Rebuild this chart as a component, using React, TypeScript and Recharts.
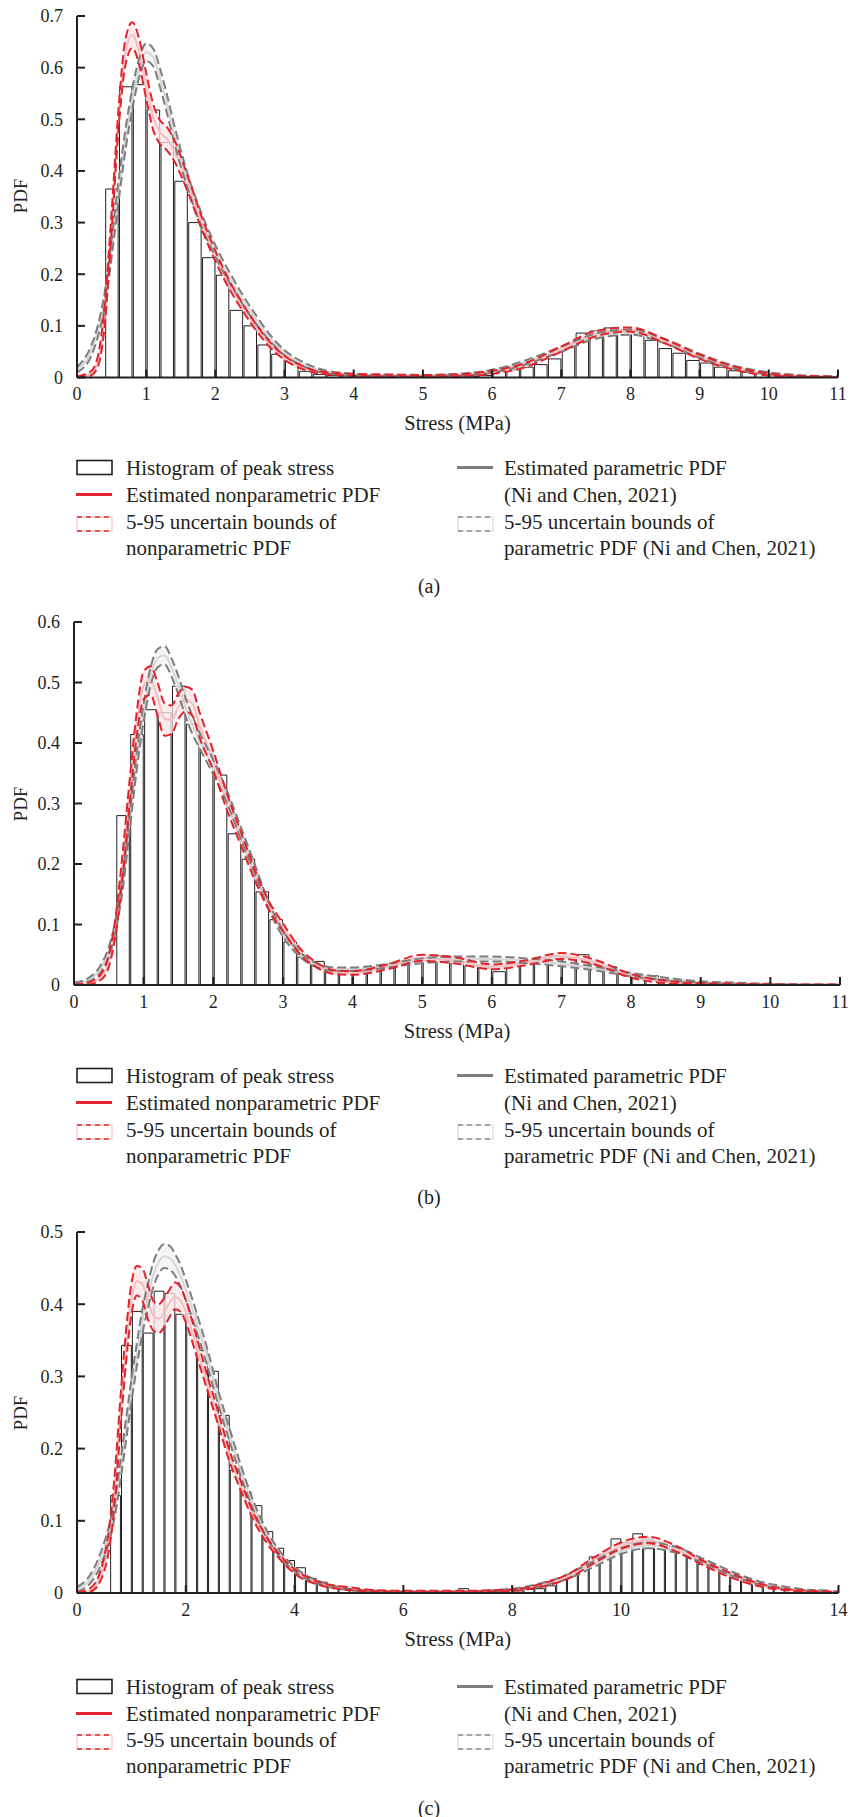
import React from 'react';
import { ComposedChart, Bar, Line, Area, XAxis, YAxis } from 'recharts';

// bin width of all three histograms (MPa)
const BIN = 0.2;

// ---------- panel (a) ----------
const binStartA = 0.4;
const histA = [
  0.365, 0.563, 0.567, 0.518, 0.455, 0.38, 0.3, 0.232, 0.198, 0.13, 0.1, 0.063, 0.045, 0.034, 0.012,
  0.006, 0.004, 0.003, 0.002, 0.002, 0.002, 0.001, 0.001, 0.002,
  0.006, 0.003, 0.002, 0.004, 0.013, 0.015, 0.02, 0.025, 0.036,
  0.061, 0.086, 0.09, 0.096, 0.09, 0.085, 0.072, 0.056, 0.047,
  0.033, 0.028, 0.02, 0.013, 0.01, 0.011, 0.004, 0.002, 0.001, 0.001, 0.001,
];
const gridA = [0, 0.2, 0.3, 0.4, 0.5, 0.6, 0.7, 0.8, 0.9, 1.0, 1.1, 1.2, 1.3, 1.4, 1.6, 1.8, 2.0, 2.2, 2.4, 2.6, 2.8, 3.0, 3.25, 3.5, 4.0, 4.5, 5.0, 5.5, 6.0, 6.5, 7.0, 7.5, 8.0, 8.5, 9.0, 9.5, 10.0, 10.5, 11.0];
const npMidA = [0.0, 0.008, 0.03, 0.12, 0.3, 0.5, 0.63, 0.663, 0.63, 0.565, 0.505, 0.475, 0.462, 0.44, 0.375, 0.3, 0.235, 0.18, 0.135, 0.095, 0.062, 0.038, 0.02, 0.01, 0.005, 0.004, 0.003, 0.004, 0.01, 0.025, 0.055, 0.085, 0.093, 0.07, 0.04, 0.018, 0.006, 0.002, 0.001];
const npLoA = [0.0, 0.004, 0.02, 0.1, 0.28, 0.48, 0.605, 0.638, 0.605, 0.54, 0.48, 0.452, 0.44, 0.42, 0.36, 0.288, 0.225, 0.172, 0.128, 0.089, 0.057, 0.034, 0.017, 0.008, 0.003, 0.002, 0.001, 0.002, 0.007, 0.021, 0.05, 0.08, 0.089, 0.066, 0.036, 0.015, 0.004, 0.001, 0.0];
const npHiA = [0.002, 0.012, 0.04, 0.14, 0.32, 0.52, 0.655, 0.688, 0.655, 0.59, 0.53, 0.498, 0.485, 0.462, 0.39, 0.312, 0.245, 0.188, 0.142, 0.101, 0.067, 0.042, 0.023, 0.012, 0.007, 0.006, 0.005, 0.006, 0.013, 0.029, 0.06, 0.09, 0.097, 0.074, 0.044, 0.021, 0.008, 0.003, 0.002];
const pMidA = [0.015, 0.05, 0.09, 0.15, 0.25, 0.36, 0.46, 0.54, 0.6, 0.63, 0.62, 0.58, 0.53, 0.475, 0.38, 0.305, 0.245, 0.195, 0.15, 0.11, 0.075, 0.048, 0.027, 0.014, 0.005, 0.003, 0.003, 0.005, 0.012, 0.03, 0.055, 0.08, 0.088, 0.07, 0.042, 0.02, 0.008, 0.003, 0.001];
const pLoA = [0.01, 0.04, 0.078, 0.135, 0.232, 0.34, 0.44, 0.52, 0.582, 0.613, 0.603, 0.562, 0.512, 0.458, 0.366, 0.292, 0.234, 0.185, 0.141, 0.102, 0.069, 0.043, 0.023, 0.011, 0.003, 0.002, 0.002, 0.003, 0.009, 0.026, 0.05, 0.075, 0.083, 0.066, 0.038, 0.017, 0.006, 0.002, 0.0];
const pHiA = [0.02, 0.06, 0.1, 0.165, 0.268, 0.38, 0.48, 0.56, 0.618, 0.647, 0.637, 0.598, 0.548, 0.492, 0.394, 0.318, 0.256, 0.205, 0.159, 0.118, 0.081, 0.053, 0.031, 0.017, 0.007, 0.004, 0.004, 0.007, 0.015, 0.034, 0.06, 0.085, 0.093, 0.074, 0.046, 0.023, 0.01, 0.004, 0.002];
const xTicksA = [0, 1, 2, 3, 4, 5, 6, 7, 8, 9, 10, 11];
const yTicksA = [0, 0.1, 0.2, 0.3, 0.4, 0.5, 0.6, 0.7];

// ---------- panel (b) ----------
const binStartB = 0.6;
const histB = [
  0.28, 0.414, 0.455, 0.45, 0.494, 0.431, 0.388, 0.347, 0.25, 0.208, 0.154, 0.108, 0.071, 0.046, 0.039,
  0.024, 0.024, 0.021, 0.027, 0.03, 0.035, 0.04, 0.045, 0.048, 0.042,
  0.032, 0.028, 0.022, 0.035, 0.04, 0.045, 0.048, 0.045, 0.05, 0.035,
  0.03, 0.02, 0.012, 0.015, 0.008, 0.006, 0.004, 0.003, 0.003, 0.002,
  0.002, 0.001, 0.002, 0.001, 0.001, 0.001, 0.001,
];
const gridB = [0, 0.2, 0.4, 0.5, 0.6, 0.7, 0.8, 0.9, 1.0, 1.1, 1.2, 1.3, 1.4, 1.5, 1.6, 1.7, 1.8, 2.0, 2.2, 2.4, 2.6, 2.8, 3.0, 3.25, 3.5, 3.75, 4.0, 4.5, 5.0, 5.5, 6.0, 6.5, 7.0, 7.5, 8.0, 8.5, 9.0, 9.5, 10.0, 10.5, 11.0];
const npMidB = [0.0, 0.002, 0.015, 0.04, 0.1, 0.2, 0.32, 0.43, 0.495, 0.505, 0.475, 0.44, 0.438, 0.46, 0.472, 0.465, 0.43, 0.37, 0.3, 0.24, 0.18, 0.13, 0.095, 0.055, 0.032, 0.021, 0.02, 0.03, 0.045, 0.04, 0.03, 0.037, 0.048, 0.037, 0.015, 0.005, 0.002, 0.001, 0.001, 0.0, 0.0];
const npLoB = [0.0, 0.001, 0.01, 0.03, 0.085, 0.18, 0.3, 0.41, 0.472, 0.48, 0.445, 0.412, 0.415, 0.44, 0.452, 0.445, 0.41, 0.355, 0.288, 0.23, 0.172, 0.124, 0.089, 0.05, 0.028, 0.018, 0.017, 0.026, 0.04, 0.035, 0.026, 0.033, 0.043, 0.033, 0.012, 0.003, 0.001, 0.0, 0.0, 0.0, 0.0];
const npHiB = [0.001, 0.004, 0.02, 0.05, 0.115, 0.22, 0.34, 0.45, 0.518, 0.527, 0.5, 0.466, 0.462, 0.482, 0.493, 0.488, 0.452, 0.387, 0.315, 0.252, 0.19, 0.138, 0.102, 0.06, 0.036, 0.024, 0.023, 0.034, 0.05, 0.045, 0.034, 0.041, 0.053, 0.041, 0.018, 0.007, 0.003, 0.002, 0.001, 0.001, 0.001];
const pMidB = [0.002, 0.008, 0.03, 0.055, 0.1, 0.17, 0.27, 0.37, 0.45, 0.51, 0.54, 0.545, 0.525, 0.495, 0.46, 0.43, 0.405, 0.36, 0.31, 0.25, 0.19, 0.13, 0.085, 0.05, 0.032, 0.026, 0.026, 0.032, 0.04, 0.043, 0.043, 0.04, 0.035, 0.027, 0.017, 0.01, 0.005, 0.003, 0.001, 0.001, 0.0];
const pLoB = [0.0, 0.005, 0.024, 0.047, 0.09, 0.158, 0.256, 0.355, 0.435, 0.495, 0.525, 0.53, 0.51, 0.48, 0.445, 0.415, 0.392, 0.348, 0.3, 0.24, 0.182, 0.124, 0.08, 0.046, 0.029, 0.023, 0.023, 0.029, 0.036, 0.039, 0.039, 0.036, 0.031, 0.024, 0.014, 0.008, 0.004, 0.002, 0.001, 0.0, 0.0];
const pHiB = [0.004, 0.011, 0.036, 0.063, 0.11, 0.182, 0.284, 0.385, 0.465, 0.525, 0.555, 0.56, 0.54, 0.51, 0.475, 0.445, 0.418, 0.372, 0.32, 0.26, 0.198, 0.136, 0.09, 0.054, 0.035, 0.029, 0.029, 0.035, 0.044, 0.047, 0.047, 0.044, 0.039, 0.03, 0.02, 0.012, 0.006, 0.004, 0.002, 0.001, 0.001];
const xTicksB = [0, 1, 2, 3, 4, 5, 6, 7, 8, 9, 10, 11];
const yTicksB = [0, 0.1, 0.2, 0.3, 0.4, 0.5, 0.6];

// ---------- panel (c) ----------
const binStartC = 0.6;
const histC = [
  0.135, 0.343, 0.39, 0.36, 0.418, 0.415, 0.386, 0.387, 0.336, 0.307,
  0.246, 0.17, 0.14, 0.121, 0.085, 0.062, 0.045, 0.035, 0.02, 0.015,
  0.008, 0.005, 0.004, 0.003, 0.003, 0.002, 0.002, 0.002, 0.002, 0.002,
  0.002, 0.002, 0.006, 0.003, 0.002, 0.002, 0.004, 0.003, 0.005, 0.006,
  0.01, 0.018, 0.025, 0.035, 0.05, 0.054, 0.075, 0.07, 0.082, 0.075,
  0.07, 0.06, 0.055, 0.048, 0.04, 0.035, 0.028, 0.022, 0.018, 0.013,
  0.009, 0.006, 0.005, 0.004, 0.003, 0.004, 0.002,
];
const gridC = [0, 0.25, 0.5, 0.6, 0.7, 0.8, 0.9, 1.0, 1.1, 1.2, 1.3, 1.4, 1.5, 1.6, 1.7, 1.8, 1.9, 2.0, 2.2, 2.4, 2.6, 2.8, 3.0, 3.25, 3.5, 3.75, 4.0, 4.5, 5.0, 5.5, 6, 7, 8, 8.5, 9, 9.5, 10, 10.5, 11, 11.5, 12, 12.5, 13, 13.5, 14];
const npMidC = [0.0, 0.004, 0.04, 0.08, 0.15, 0.25, 0.34, 0.405, 0.432, 0.428, 0.405, 0.385, 0.38, 0.388, 0.402, 0.41, 0.405, 0.39, 0.34, 0.29, 0.24, 0.19, 0.15, 0.105, 0.072, 0.048, 0.03, 0.012, 0.006, 0.003, 0.002, 0.002, 0.004, 0.01, 0.022, 0.045, 0.065, 0.073, 0.062, 0.042, 0.025, 0.012, 0.005, 0.002, 0.001];
const npLoC = [0.0, 0.002, 0.03, 0.065, 0.13, 0.228, 0.318, 0.385, 0.412, 0.405, 0.38, 0.364, 0.36, 0.368, 0.382, 0.393, 0.39, 0.375, 0.328, 0.28, 0.232, 0.183, 0.144, 0.1, 0.068, 0.045, 0.027, 0.01, 0.004, 0.002, 0.001, 0.001, 0.003, 0.008, 0.019, 0.041, 0.061, 0.069, 0.058, 0.039, 0.022, 0.01, 0.004, 0.001, 0.0];
const npHiC = [0.001, 0.007, 0.05, 0.095, 0.17, 0.272, 0.362, 0.428, 0.453, 0.45, 0.428, 0.405, 0.4, 0.408, 0.42, 0.43, 0.424, 0.406, 0.354, 0.3, 0.25, 0.198, 0.157, 0.11, 0.076, 0.051, 0.033, 0.014, 0.008, 0.004, 0.003, 0.003, 0.005, 0.012, 0.025, 0.049, 0.07, 0.078, 0.066, 0.045, 0.028, 0.014, 0.006, 0.003, 0.002];
const pMidC = [0.005, 0.02, 0.06, 0.085, 0.12, 0.17, 0.225, 0.28, 0.33, 0.375, 0.41, 0.44, 0.458, 0.466, 0.464, 0.455, 0.44, 0.42, 0.375, 0.325, 0.27, 0.22, 0.172, 0.12, 0.08, 0.052, 0.033, 0.013, 0.005, 0.002, 0.001, 0.001, 0.005, 0.011, 0.022, 0.04, 0.058, 0.066, 0.06, 0.045, 0.028, 0.015, 0.007, 0.003, 0.001];
const pLoC = [0.002, 0.014, 0.05, 0.074, 0.108, 0.156, 0.21, 0.264, 0.314, 0.358, 0.393, 0.423, 0.442, 0.45, 0.448, 0.44, 0.425, 0.406, 0.362, 0.313, 0.26, 0.211, 0.164, 0.114, 0.075, 0.048, 0.03, 0.011, 0.004, 0.001, 0.0, 0.0, 0.004, 0.009, 0.019, 0.036, 0.054, 0.062, 0.056, 0.042, 0.025, 0.013, 0.005, 0.002, 0.0];
const pHiC = [0.008, 0.026, 0.07, 0.096, 0.132, 0.184, 0.24, 0.296, 0.346, 0.392, 0.427, 0.457, 0.475, 0.483, 0.481, 0.47, 0.455, 0.434, 0.388, 0.337, 0.28, 0.229, 0.18, 0.126, 0.085, 0.056, 0.036, 0.015, 0.006, 0.003, 0.002, 0.002, 0.006, 0.013, 0.025, 0.044, 0.062, 0.07, 0.064, 0.048, 0.031, 0.017, 0.009, 0.004, 0.002];
const xTicksC = [0, 2, 4, 6, 8, 10, 12, 14];
const yTicksC = [0, 0.1, 0.2, 0.3, 0.4, 0.5];

const FONT = "'Liberation Serif', 'Times New Roman', serif";
const INK = '#231f20';
const RED = '#e3222a';
const GREY = '#7d7d7d';
const DASH = '9 4';

type Curves = { npMid: number[]; npLo: number[]; npHi: number[]; pMid: number[]; pLo: number[]; pHi: number[] };

// histogram rows sit at the bin centres
function histRows(binStart: number, hist: number[]) {
  return hist.map((h, i) => ({ x: Math.round((binStart + BIN * (i + 0.5)) * 1000) / 1000, hist: h }));
}

function curveRows(grid: number[], c: Curves) {
  return grid.map((x, i) => ({
    x,
    npMid: c.npMid[i],
    npBand: [c.npLo[i], c.npHi[i]],
    npLo: c.npLo[i],
    npHi: c.npHi[i],
    pMid: c.pMid[i],
    pBand: [c.pLo[i], c.pHi[i]],
    pLo: c.pLo[i],
    pHi: c.pHi[i],
  }));
}

const panels = [
  {
    bars: histRows(binStartA, histA),
    curves: curveRows(gridA, { npMid: npMidA, npLo: npLoA, npHi: npHiA, pMid: pMidA, pLo: pLoA, pHi: pHiA }),
    xMax: 11, yMax: 0.7, xTicks: xTicksA, yTicks: yTicksA,
    top: 15.5, bottom: 377, left: 77, right: 838,
    legend: [468, 495, 522, 548], caption: '(a)', captionY: 586,
  },
  {
    bars: histRows(binStartB, histB),
    curves: curveRows(gridB, { npMid: npMidB, npLo: npLoB, npHi: npHiB, pMid: pMidB, pLo: pLoB, pHi: pHiB }),
    xMax: 11, yMax: 0.6, xTicks: xTicksB, yTicks: yTicksB,
    top: 622, bottom: 985, left: 74, right: 840,
    legend: [1076, 1103, 1130, 1156], caption: '(b)', captionY: 1197,
  },
  {
    bars: histRows(binStartC, histC),
    curves: curveRows(gridC, { npMid: npMidC, npLo: npLoC, npHi: npHiC, pMid: pMidC, pLo: pLoC, pHi: pHiC }),
    xMax: 14, yMax: 0.5, xTicks: xTicksC, yTicks: yTicksC,
    top: 1232, bottom: 1593, left: 77, right: 838.5,
    legend: [1687, 1714, 1740, 1766], caption: '(c)', captionY: 1808,
  },
];

const tickStyle = { fill: INK, fontSize: 18, fontFamily: FONT };
const frame = { stroke: INK, strokeWidth: 2 };

function Symbol({ kind, color, light }: { kind: 'hist' | 'line' | 'band'; color: string; light?: string }) {
  return (
    <svg width={37} height={18} style={{ position: 'absolute', left: 0, top: -9 }}>
      {kind === 'hist' && <rect x={1} y={1.5} width={35} height={14} fill="#fff" stroke={INK} strokeWidth={1.6} />}
      {kind === 'line' && <line x1={0} x2={36} y1={8.5} y2={8.5} stroke={color} strokeWidth={3} />}
      {kind === 'band' && (
        <g>
          <rect x={1} y={2} width={35} height={14} fill="#fff" stroke={light} strokeWidth={1} />
          <line x1={1} x2={36} y1={2} y2={2} stroke={color} strokeWidth={1.4} strokeDasharray="5 4" />
          <line x1={1} x2={36} y1={16} y2={16} stroke={color} strokeWidth={1.4} strokeDasharray="5 4" />
        </g>
      )}
    </svg>
  );
}

function Txt({ x, y, children }: { x: number; y: number; children: React.ReactNode }) {
  return (
    <div style={{ position: 'absolute', left: x, top: y - 13, height: 26, lineHeight: '26px', fontSize: 21, fontFamily: FONT, color: INK, whiteSpace: 'nowrap' }}>
      {children}
    </div>
  );
}

function Panel({ p }: { p: (typeof panels)[number] }) {
  const plotH = p.bottom - p.top;
  const unit = (p.right - p.left) / p.xMax;
  const [r1, r2, r3, r4] = p.legend;
  const margin = { top: 10, right: 850 - p.right, bottom: 0, left: p.left - 60 };
  const chartH = plotH + 40;
  return (
    <>
      {/* histogram layer */}
      <div style={{ position: 'absolute', left: 0, top: p.top - 10 }}>
        <ComposedChart width={850} height={chartH} data={p.bars} margin={margin}>
          <XAxis dataKey="x" type="number" domain={[0, p.xMax]} ticks={p.xTicks} allowDataOverflow height={30} tick={false} axisLine={false} tickLine={false} />
          <YAxis type="number" domain={[0, p.yMax]} ticks={p.yTicks} allowDataOverflow width={60} tick={false} axisLine={false} tickLine={false} />
          <Bar dataKey="hist" barSize={unit * BIN} fill="#fff" stroke={INK} strokeWidth={1} isAnimationActive={false} />
        </ComposedChart>
      </div>

      {/* curves + frame layer */}
      <div style={{ position: 'absolute', left: 0, top: p.top - 10 }}>
        <ComposedChart width={850} height={chartH} data={p.curves} margin={margin}>
          <Area dataKey="pBand" type="monotone" stroke="none" fill="#f2f2f2" fillOpacity={0.75} isAnimationActive={false} />
          <Area dataKey="npBand" type="monotone" stroke="none" fill="#fbe4e5" fillOpacity={0.75} isAnimationActive={false} />
          <Line dataKey="pMid" type="monotone" dot={false} stroke="#d6d6d6" strokeWidth={2} isAnimationActive={false} />
          <Line dataKey="npMid" type="monotone" dot={false} stroke="#f2c0c3" strokeWidth={2} isAnimationActive={false} />
          <Line dataKey="pLo" type="monotone" dot={false} stroke={GREY} strokeWidth={2} strokeDasharray={DASH} isAnimationActive={false} />
          <Line dataKey="pHi" type="monotone" dot={false} stroke={GREY} strokeWidth={2} strokeDasharray={DASH} isAnimationActive={false} />
          <Line dataKey="npLo" type="monotone" dot={false} stroke={RED} strokeWidth={2} strokeDasharray={DASH} isAnimationActive={false} />
          <Line dataKey="npHi" type="monotone" dot={false} stroke={RED} strokeWidth={2} strokeDasharray={DASH} isAnimationActive={false} />
          <XAxis
            dataKey="x" type="number" domain={[0, p.xMax]} ticks={p.xTicks} interval={0} allowDataOverflow
            height={30} tickSize={-8} tickMargin={18} tick={tickStyle} axisLine={frame} tickLine={frame}
          />
          <XAxis
            xAxisId="top" orientation="top" dataKey="x" type="number" domain={[0, p.xMax]} ticks={p.xTicks} interval={0}
            allowDataOverflow height={0} tickSize={-8} tick={false} axisLine={frame} tickLine={frame}
          />
          <YAxis
            type="number" domain={[0, p.yMax]} ticks={p.yTicks} interval={0} allowDataOverflow width={60}
            tickSize={-8} tickMargin={22} tick={tickStyle} axisLine={frame} tickLine={frame}
          />
          <YAxis
            yAxisId="right" orientation="right" type="number" domain={[0, p.yMax]} ticks={p.yTicks} interval={0}
            allowDataOverflow width={0} tickSize={-8} tick={false} axisLine={frame} tickLine={frame}
          />
        </ComposedChart>
      </div>

      {/* axis titles */}
      <div
        style={{
          position: 'absolute', left: 21, top: (p.top + p.bottom) / 2, transform: 'translate(-50%, -50%) rotate(-90deg)',
          fontSize: 19, fontFamily: FONT, color: INK, whiteSpace: 'nowrap', lineHeight: '20px',
        }}
      >
        PDF
      </div>
      <div
        style={{
          position: 'absolute', left: (p.left + p.right) / 2 - 100, width: 200, top: p.bottom + 46 - 12, height: 24,
          lineHeight: '24px', textAlign: 'center', fontSize: 20.5, fontFamily: FONT, color: INK,
        }}
      >
        Stress (MPa)
      </div>

      {/* legend */}
      <div style={{ position: 'absolute', left: 76, top: r1 }}><Symbol kind="hist" color={INK} /></div>
      <Txt x={126} y={r1}>Histogram of peak stress</Txt>
      <div style={{ position: 'absolute', left: 76, top: r2 }}><Symbol kind="line" color={RED} /></div>
      <Txt x={126} y={r2}>Estimated nonparametric PDF</Txt>
      <div style={{ position: 'absolute', left: 76, top: r3 + 2 }}><Symbol kind="band" color={RED} light="#f6bcbf" /></div>
      <Txt x={126} y={r3}>5-95 uncertain bounds of</Txt>
      <Txt x={126} y={r4}>nonparametric PDF</Txt>

      <div style={{ position: 'absolute', left: 457, top: r1 }}><Symbol kind="line" color={GREY} /></div>
      <Txt x={504} y={r1}>Estimated parametric PDF</Txt>
      <Txt x={504} y={r2}>(Ni and Chen, 2021)</Txt>
      <div style={{ position: 'absolute', left: 457, top: r3 + 2 }}><Symbol kind="band" color="#8a8a8a" light="#d4d4d4" /></div>
      <Txt x={504} y={r3}>5-95 uncertain bounds of</Txt>
      <Txt x={504} y={r4}>parametric PDF (Ni and Chen, 2021)</Txt>

      <div
        style={{
          position: 'absolute', left: 429 - 40, width: 80, top: p.captionY - 12, height: 24, lineHeight: '24px',
          textAlign: 'center', fontSize: 20, fontFamily: FONT, color: INK,
        }}
      >
        {p.caption}
      </div>
    </>
  );
}

export default function App() {
  return (
    <div style={{ position: 'absolute', left: 0, top: 0, width: 850, height: 1817, background: '#fff' }}>
      {panels.map((p) => (
        <Panel key={p.caption} p={p} />
      ))}
    </div>
  );
}
